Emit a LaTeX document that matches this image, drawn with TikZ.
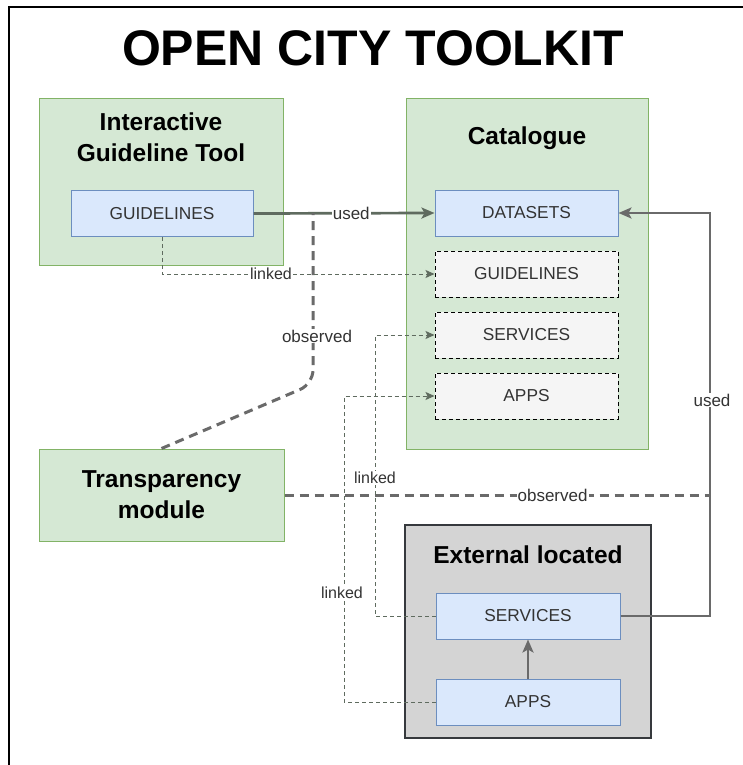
\documentclass[tikz,border=0pt]{standalone}
\usepackage{fontspec}
\setmainfont{Liberation Sans}
\usetikzlibrary{arrows.meta}

\definecolor{grnfill}{HTML}{D5E8D4}
\definecolor{grnline}{HTML}{82B366}
\definecolor{bluefill}{HTML}{DAE8FC}
\definecolor{blueline}{HTML}{6C8EBF}
\definecolor{ghostfill}{HTML}{F5F5F5}
\definecolor{extfill}{HTML}{D4D4D4}
\definecolor{extline}{HTML}{36393D}
\definecolor{edgecol}{HTML}{5F6B5F}
\definecolor{edgegray}{HTML}{6A6A6A}
\definecolor{labelcol}{HTML}{333333}

\tikzset{
  container/.style={draw=grnline, fill=grnfill, line width=1pt, inner sep=0pt},
  extbox/.style={draw=extline, fill=extfill, line width=1.6pt, inner sep=0pt},
  itembox/.style={draw=blueline, fill=bluefill, line width=1pt, inner sep=0pt,
    minimum width=183pt, minimum height=46pt, text=labelcol,
    font=\fontsize{17.3}{20}\selectfont},
  ghostbox/.style={itembox, draw=black, fill=ghostfill, dash pattern=on 4pt off 3pt},
  boxtitle/.style={font=\fontsize{24.5}{31}\selectfont\bfseries, align=center, inner sep=0pt},
  usedge/.style={draw=edgecol, line width=2.7pt, -{Stealth[length=13pt,width=11pt,inset=3pt]}},
  usedgray/.style={usedge, draw=edgegray},
  linkedge/.style={draw=edgecol, line width=1pt, dash pattern=on 4pt off 3pt,
    -{Stealth[length=9pt,width=8pt,inset=2pt]}},
  obsedge/.style={draw=edgegray, line width=3pt, dash pattern=on 9pt off 6pt},
  elabel/.style={fill=white, inner sep=1pt, text=labelcol, font=\fontsize{17}{20}\selectfont},
  llabel/.style={fill=white, inner sep=1pt, text=labelcol, font=\fontsize{16}{19}\selectfont},
}

\begin{document}
\begin{tikzpicture}[x=1pt, y=-1pt]
\useasboundingbox (0,0) rectangle (743,765);
\fill[white] (0,0) rectangle (743,765);

% frame lines
\draw[line width=2.2pt] (743,7) -- (9,7) -- (9,765);

% title
\node[font=\fontsize{50}{56}\selectfont\bfseries, inner sep=0pt] (title) at (373,48) {OPEN CITY TOOLKIT};

% containers
\node[container, minimum width=244pt, minimum height=167pt] (igt) at (161.5,182) {};
\node[boxtitle] (igttitle) at (161,137) {Interactive\\Guideline Tool};

\node[container, minimum width=242pt, minimum height=350pt] (cat) at (527,274) {};
\node[boxtitle] (cattitle) at (527,138) {Catalogue};

\node[container, minimum width=245pt, minimum height=92pt, boxtitle] (trans) at (161.5,495) {Transparency\\module};

\node[extbox, minimum width=246pt, minimum height=213pt] (ext) at (528,631.5) {};
\node[boxtitle] (exttitle) at (528,555) {External located};

% items
\node[itembox, minimum width=182pt] (guide) at (162,213.5) {GUIDELINES};
\node[itembox] (datasets) at (526.5,213) {DATASETS};
\node[ghostbox] (cguide) at (526.5,274) {GUIDELINES};
\node[ghostbox] (cserv) at (526.5,335) {SERVICES};
\node[ghostbox] (capps) at (526.5,396) {APPS};
\node[itembox, minimum width=184pt] (eserv) at (528,616) {SERVICES};
\node[itembox, minimum width=184pt] (eapps) at (528,702) {APPS};

% junction points on the used connectors
\coordinate (obsA) at (313,213);
\coordinate (obsB) at (710,495);

% used connectors
\draw[usedge] (guide.east) -- node[elabel, pos=0.54] {used} (datasets.west);
\draw[usedgray] (eserv.east) -- (710,616) |- (datasets.east);
\node[elabel] (usedlbl) at (712,400) {used};
\draw[usedgray] (eapps.north) -- (eserv.south);

% observed connectors
\draw[obsedge, rounded corners=14pt] (trans.north) -- (313,384) -- (obsA);
\node[elabel] (obs1) at (317,336) {observed};
\draw[obsedge] (trans.east |- obsB) -- node[elabel, pos=0.63] {observed} (obsB);

% linked connectors
\draw[linkedge] (guide.south) |- node[llabel, pos=0.7] {linked} (cguide.west);
\draw[linkedge] (eserv.west) -- (375,616) |- (cserv.west);
\node[llabel] (lnk2) at (375,478) {linked};
\draw[linkedge] (eapps.west) -- (344,702) |- (capps.west);
\node[llabel] (lnk3) at (342,593) {linked};
\end{tikzpicture}
\end{document}
